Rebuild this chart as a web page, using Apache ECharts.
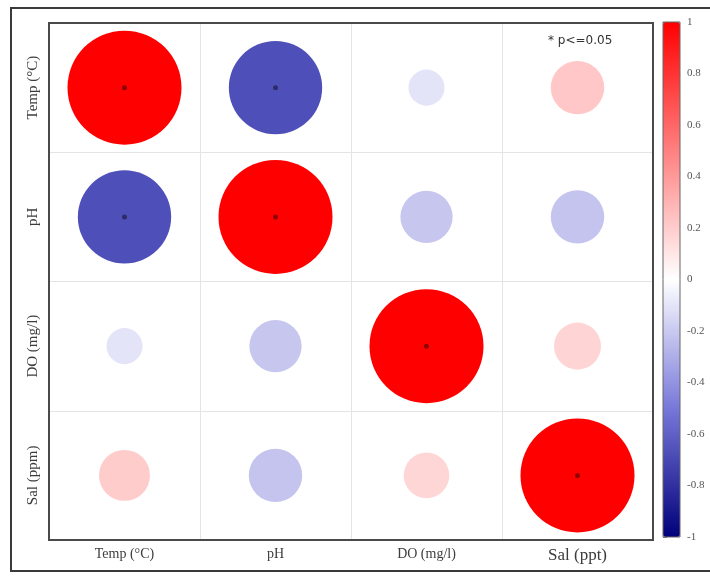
<!DOCTYPE html>
<html>
<head>
<meta charset="utf-8">
<script src="https://cdn.jsdelivr.net/npm/echarts@6/dist/echarts.min.js"></script>
<style>html,body{margin:0;padding:0;background:#fff;}#c{width:710px;height:578px;}</style>
</head>
<body>
<div id="c"></div>
<script>
var xCategories = ['Temp (°C)', 'pH', 'DO (mg/l)', 'Sal (ppt)'];
var yCategories = ['Temp (°C)', 'pH', 'DO (mg/l)', 'Sal (ppm)'];
var rowTemp = [1, -0.67, -0.1, 0.22];
var rowPH = [-0.67, 1, -0.21, -0.22];
var rowDO = [-0.1, -0.21, 1, 0.17];
var rowSal = [0.2, -0.22, 0.16, 1];
var sigTemp = [1, 1, 0, 0];
var sigPH = [1, 1, 0, 0];
var sigDO = [0, 0, 1, 0];
var sigSal = [0, 0, 0, 1];
var colorbarTicks = [-1, -0.8, -0.6, -0.4, -0.2, 0, 0.2, 0.4, 0.6, 0.8, 1];

var rows = [rowTemp, rowPH, rowDO, rowSal];
var sigs = [sigTemp, sigPH, sigDO, sigSal];
var circleData = [], sigData = [];
rows.forEach(function (row, i) {
  row.forEach(function (v, j) {
    circleData.push([j, i, v]);
    if (sigs[i][j]) sigData.push([j, i, v]);
  });
});

var chart = echarts.init(document.getElementById('c'), null, {renderer: 'canvas'});
var serif = '"Liberation Serif", "DejaVu Serif", serif';
chart.setOption({
  animation: false,
  backgroundColor: '#fff',
  grid: [
    {left: 49, top: 23, width: 604, height: 517, show: false},
    {left: 663, top: 22, width: 17, height: 515, show: false}
  ],
  xAxis: [
    {type: 'category', gridIndex: 0, data: xCategories, position: 'bottom',
     axisLine: {show: false}, axisTick: {show: false},
     splitLine: {show: true, lineStyle: {color: '#e4e4e4', width: 1}},
     axisLabel: {margin: 7, color: '#3c3c3c', fontFamily: serif, fontSize: 14,
       formatter: function (v) { return v === 'Sal (ppt)' ? '{big|' + v + '}' : v; },
       rich: {big: {fontSize: 17, fontFamily: serif, color: '#3c3c3c'}}}},
    {type: 'value', gridIndex: 1, show: false, min: 0, max: 1}
  ],
  yAxis: [
    {type: 'category', gridIndex: 0, data: yCategories, inverse: true,
     axisLine: {show: false}, axisTick: {show: false},
     splitLine: {show: true, lineStyle: {color: '#e4e4e4', width: 1}},
     axisLabel: {rotate: 90, margin: 8, color: '#3c3c3c', fontFamily: serif, fontSize: 15}},
    {type: 'value', gridIndex: 1, min: -1, max: 1, interval: 0.2, position: 'right',
     axisLine: {show: false}, splitLine: {show: false},
     axisTick: {show: true, length: 4, inside: false, lineStyle: {color: '#888'}},
     axisLabel: {margin: 7, color: '#555', fontFamily: serif, fontSize: 11,
       formatter: function (v) { return String(Math.round(v * 10) / 10); }}}
  ],
  visualMap: {
    type: 'continuous', seriesIndex: 0, dimension: 2, min: -1, max: 1,
    calculable: false, show: true, orient: 'vertical', left: 663, top: 22,
    itemWidth: 17, itemHeight: 515, padding: 0, text: null, showLabel: false,
    inRange: {color: ['#00007a', '#7878da', '#ffffff', '#ff8080', '#ff0000']}
  },
  series: [
    {type: 'scatter', xAxisIndex: 0, yAxisIndex: 0, data: circleData,
     symbol: 'circle',
     symbolSize: function (d) { return 114 * Math.sqrt(Math.abs(d[2])); },
     itemStyle: {opacity: 1}, z: 2},
    {type: 'scatter', xAxisIndex: 0, yAxisIndex: 0, data: sigData,
     symbol: 'circle', symbolSize: 5,
     itemStyle: {color: 'rgba(0,0,0,0.55)'}, z: 3}
  ],
  graphic: [
    {type: 'rect', shape: {x: 11, y: 8, width: 720, height: 563}, z: 100,
     style: {fill: 'none', stroke: '#3a3a3a', lineWidth: 2}},
    {type: 'rect', shape: {x: 49, y: 23, width: 604, height: 517}, z: 100,
     style: {fill: 'none', stroke: '#4a4a4a', lineWidth: 2}},
    {type: 'rect', shape: {x: 663, y: 22, width: 17, height: 515}, z: 100,
     style: {fill: 'none', stroke: '#666', lineWidth: 1}},
    {type: 'text', left: 548, top: 35, z: 100,
     style: {text: '* p<=0.05', fontFamily: '"DejaVu Sans", sans-serif', fontSize: 12, fill: '#333'}}
  ]
});
</script>
</body>
</html>
